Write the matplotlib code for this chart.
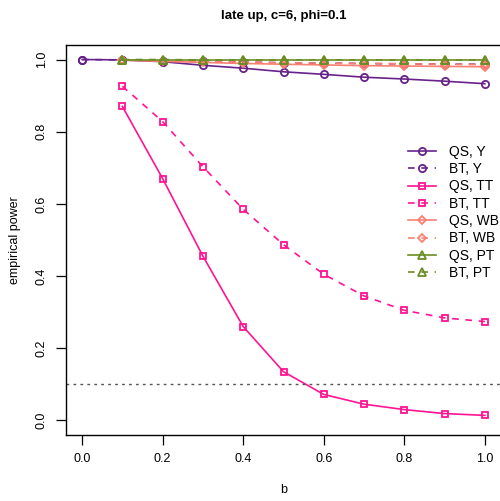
import numpy as np
import matplotlib.pyplot as plt

################################################################################
# data: empirical power against b
b_full = [0.0, 0.1, 0.2, 0.3, 0.4, 0.5, 0.6, 0.7, 0.8, 0.9, 1.0]
b = [0.1, 0.2, 0.3, 0.4, 0.5, 0.6, 0.7, 0.8, 0.9, 1.0]

qs_y = [1.0, 0.999, 0.994, 0.984, 0.976, 0.966, 0.959, 0.951, 0.946, 0.940, 0.933]
bt_y = [1.0, 0.999, 0.997, 0.995, 0.993, 0.991, 0.990, 0.989, 0.988, 0.987, 0.987]
qs_tt = [0.870, 0.670, 0.455, 0.260, 0.135, 0.072, 0.045, 0.030, 0.019, 0.014]
bt_tt = [0.926, 0.828, 0.703, 0.585, 0.487, 0.405, 0.345, 0.305, 0.284, 0.274]
qs_wb = [0.998, 0.995, 0.992, 0.989, 0.987, 0.985, 0.983, 0.982, 0.981, 0.980]
bt_wb = [0.999, 0.997, 0.995, 0.993, 0.991, 0.990, 0.989, 0.988, 0.987, 0.986]
qs_pt = [1.0, 1.0, 1.0, 1.0, 1.0, 1.0, 1.0, 1.0, 1.0, 1.0]
bt_pt = [1.0, 1.0, 0.999, 0.999, 0.999, 0.999, 0.999, 0.999, 0.999, 0.999]

alpha_level = 0.1

# colours per test statistic
c_y = "#68228B"
c_tt = "#FF1493"
c_wb = "#FA8072"
c_pt = "#6B8E23"

################################################################################
plt.rcParams['font.family'] = ['Liberation Sans', 'DejaVu Sans']

fig = plt.figure(figsize=(5.0, 5.01), dpi=100)
ax = fig.add_axes([0.132, 0.132, 0.870, 0.778])

dash = (0, (4, 4))
ms = 5.2
lw = 1.2

series = [
    ("QS, Y", b_full, qs_y, c_y, "o", "-"),
    ("BT, Y", b_full, bt_y, c_y, "o", dash),
    ("QS, TT", b, qs_tt, c_tt, "s", "-"),
    ("BT, TT", b, bt_tt, c_tt, "s", dash),
    ("QS, WB", b, qs_wb, c_wb, "D", "-"),
    ("BT, WB", b, bt_wb, c_wb, "D", dash),
    ("QS, PT", b, qs_pt, c_pt, "^", "-"),
    ("BT, PT", b, bt_pt, c_pt, "^", dash),
]

for label, xs, ys, col, mk, ls in series:
    size = ms - 1.0 if mk in ("D", "s") else ms
    ax.plot(xs, ys, color=col, linestyle=ls, linewidth=lw, marker=mk,
            markersize=size, markerfacecolor="none", markeredgecolor=col,
            markeredgewidth=1.3, label=label)

# nominal level
ax.axhline(alpha_level, color="#555555", linestyle=(0, (2, 3)), linewidth=1.0)

ax.set_xlim(-0.04, 1.04)
ax.set_ylim(-0.04, 1.04)
ax.set_xticks([0.0, 0.2, 0.4, 0.6, 0.8, 1.0])
ax.set_yticks([0.0, 0.2, 0.4, 0.6, 0.8, 1.0])
ax.set_xticklabels(["0.0", "0.2", "0.4", "0.6", "0.8", "1.0"])
ax.set_yticklabels(["0.0", "0.2", "0.4", "0.6", "0.8", "1.0"], rotation=90, va="center")
ax.tick_params(direction="out", length=7, width=0.9, labelsize=9, pad=6)
for s in ax.spines.values():
    s.set_linewidth(1.0)

ax.set_xlabel("b", fontsize=9, labelpad=14)
ax.set_ylabel("empirical power", fontsize=9, labelpad=11)
ax.set_title("late up, c=6, phi=0.1", fontsize=9.5, fontweight="bold", pad=19)

ax.legend(loc="upper left", bbox_to_anchor=(0.816, 0.711), bbox_transform=fig.transFigure,
          frameon=False, fontsize=10, handlelength=2.0, handletextpad=0.95,
          labelspacing=0.24, borderpad=0, borderaxespad=0)

plt.savefig("out.png", dpi=100)
